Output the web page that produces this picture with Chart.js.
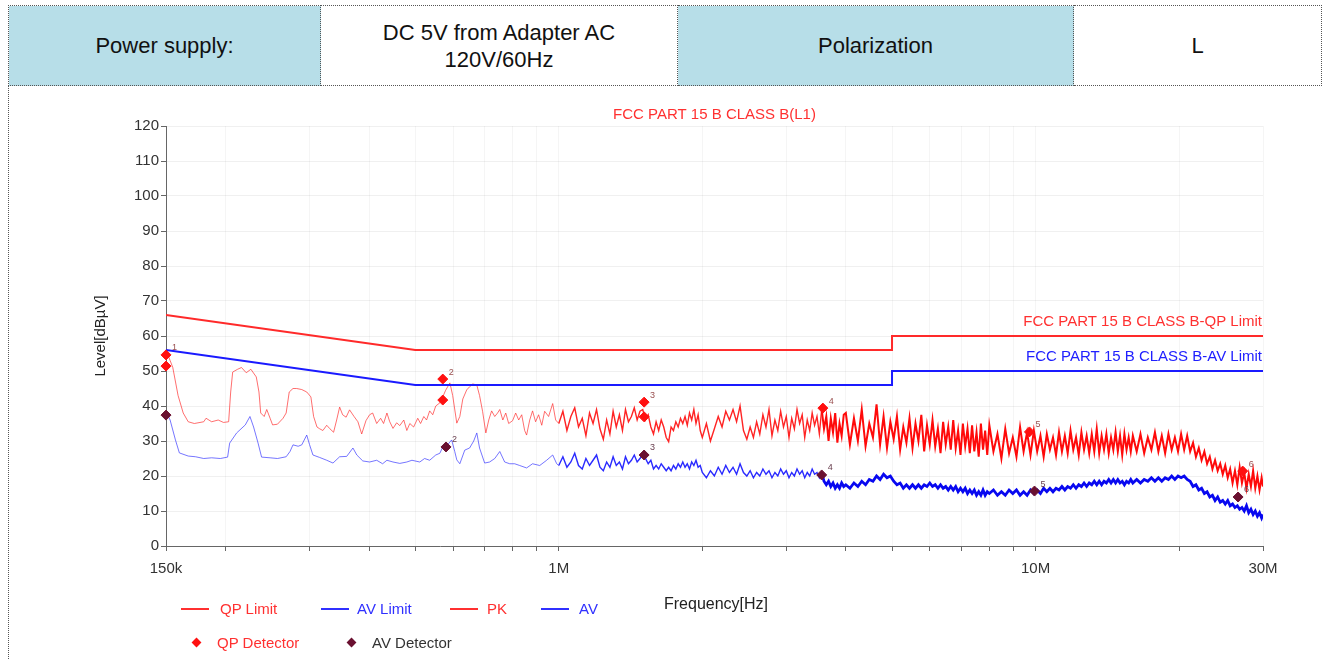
<!DOCTYPE html>
<html>
<head>
<meta charset="utf-8">
<script src="https://cdn.jsdelivr.net/npm/chart.js@4.4.1/dist/chart.umd.min.js"></script>
<style>
  html, body { margin: 0; padding: 0; background: #fff; }
  body { width: 1326px; height: 659px; position: relative; overflow: hidden; font-family: 'Liberation Sans', Arial, sans-serif; }
  .info { position: absolute; left: 8px; top: 5px; width: 1313px; height: 81px; border-collapse: collapse; table-layout: fixed; }
  .info td { border: 1px dotted #555; text-align: center; vertical-align: middle; font-size: 22px; line-height: 27px; color: #111; padding: 0; }
  .info td.head { background: #b7dee8; }
  .frame { position: absolute; left: 8px; top: 86px; height: 573px; border-left: 1px dotted #555; }
  #wrap { position: absolute; left: 0; top: 86px; width: 1326px; height: 573px; }
  .lg { position: absolute; font-size: 15px; line-height: 18px; white-space: nowrap; }
  .sw { position: absolute; width: 28px; height: 2px; }
  .dm { position: absolute; width: 7px; height: 7px; transform: rotate(45deg); }
</style>
</head>
<body>
<table class="info">
  <colgroup><col style="width:312px"><col style="width:357px"><col style="width:396px"><col style="width:248px"></colgroup>
  <tr>
    <td class="head">Power supply:</td>
    <td>DC 5V from Adapter AC<br>120V/60Hz</td>
    <td class="head">Polarization</td>
    <td>L</td>
  </tr>
</table>
<div class="frame"></div>
<div id="wrap"><canvas id="emiChart"></canvas></div>

<div class="sw" style="left:181px;top:608px;background:#ff3030"></div>
<div class="lg" style="left:220px;top:600px;color:#ff3030">QP Limit</div>
<div class="sw" style="left:321px;top:608px;background:#3030ff"></div>
<div class="lg" style="left:357px;top:600px;color:#3030ff">AV Limit</div>
<div class="sw" style="left:450px;top:608px;background:#ff3030"></div>
<div class="lg" style="left:487px;top:600px;color:#ff3030">PK</div>
<div class="sw" style="left:541px;top:608px;background:#3030ff"></div>
<div class="lg" style="left:579px;top:600px;color:#3030ff">AV</div>
<div class="lg" style="left:664px;top:595px;color:#222;font-size:16px">Frequency[Hz]</div>
<div class="dm" style="left:193px;top:639px;background:#ff1010"></div>
<div class="lg" style="left:217px;top:634px;color:#ff3030">QP Detector</div>
<div class="dm" style="left:348px;top:639px;background:#6a1030"></div>
<div class="lg" style="left:372px;top:634px;color:#333">AV Detector</div>

<script>
// frequencies in MHz, levels in dBuV
const pkFreqLow = [
  0.150, 0.153, 0.155, 0.159, 0.163, 0.167, 0.172, 0.180, 0.182, 0.187,
  0.193, 0.198, 0.203, 0.205, 0.207, 0.212, 0.216, 0.221, 0.226, 0.232,
  0.235, 0.237, 0.241, 0.244, 0.248, 0.251, 0.257, 0.264, 0.268, 0.272,
  0.277, 0.282, 0.289, 0.296, 0.302, 0.306, 0.311, 0.315, 0.320, 0.326,
  0.331, 0.337, 0.342, 0.347, 0.352, 0.358, 0.364, 0.372, 0.379, 0.386,
  0.394, 0.401, 0.407, 0.415, 0.423, 0.429, 0.436, 0.442, 0.449, 0.457,
  0.464, 0.473, 0.480, 0.487, 0.496, 0.506, 0.513, 0.521, 0.528, 0.536,
  0.544, 0.552, 0.563, 0.571, 0.579, 0.591, 0.599, 0.611, 0.620, 0.629,
  0.641, 0.650, 0.660, 0.673, 0.682, 0.692, 0.703, 0.713, 0.723, 0.734,
  0.744, 0.752, 0.763, 0.774, 0.785, 0.800, 0.812, 0.824, 0.836, 0.848,
  0.856, 0.869, 0.881, 0.894, 0.907, 0.921, 0.934, 0.952, 0.971, 0.985
];
const pkLevelLow = [
  56, 53, 51, 43, 38, 35.5, 35, 35.5, 36.5, 35.5,
  36, 35.3, 35.5, 44, 49.7, 50.5, 51, 49.5, 50.5, 48.3,
  44, 38, 37, 39, 36.5, 34.6, 34.8, 36.5, 38, 44,
  45, 45, 44.7, 44, 42.6, 37, 34, 33.5, 33, 34.5,
  33.5, 32.5, 36, 39.7, 37.5, 36.8, 38.9, 37, 35.5, 32,
  35.8, 37.5, 38, 35, 36.5, 35, 38, 35.5, 33.6, 35.2,
  34.4, 36, 33, 35, 34, 36.5, 35, 37, 36, 38.6,
  37.5, 40, 40.9, 42.6, 44.5, 46.6, 43, 35.1, 37, 42,
  44.6, 45.5, 46.3, 46, 43, 38.5, 32.3, 36, 38.6, 37,
  38, 39, 36, 38, 35, 35.8, 38, 36, 37.5, 33,
  31.7, 36, 38.6, 35.5, 37.5, 34.5, 38.5, 37, 40.7, 36
];
const avFreqLow = [
  0.150, 0.153, 0.157, 0.160, 0.167, 0.173, 0.180, 0.187, 0.195, 0.202,
  0.204, 0.211, 0.220, 0.225, 0.229, 0.234, 0.238, 0.248, 0.257, 0.268,
  0.273, 0.277, 0.284, 0.289, 0.296, 0.300, 0.305, 0.315, 0.326, 0.336,
  0.347, 0.359, 0.370, 0.377, 0.388, 0.401, 0.415, 0.427, 0.436, 0.449,
  0.464, 0.480, 0.492, 0.511, 0.523, 0.536, 0.552, 0.563, 0.571, 0.585,
  0.596, 0.605, 0.611, 0.620, 0.635, 0.650, 0.663, 0.673, 0.682, 0.699,
  0.716, 0.734, 0.752, 0.770, 0.789, 0.808, 0.828, 0.856, 0.881, 0.912,
  0.943, 0.971, 0.990
];
const avLevelLow = [
  38.5, 36, 30.3, 26.6, 25.7, 25.5, 25, 25.2, 25, 25.4,
  29.4, 32.3, 34.6, 37, 34, 29.4, 25.4, 25.2, 25, 25.5,
  27, 28.9, 28.5, 28.9, 31.7, 29, 26, 25.3, 24.5, 23.7,
  25.5, 25.6, 28, 26, 24.3, 24, 24.5, 23.5, 24.5, 24,
  23.6, 24, 24.5, 24, 25, 24.5, 26, 26.5, 28.3, 29,
  30.3, 27, 24.6, 23.5, 27.4, 28, 30, 32.3, 28, 23.7,
  24, 25, 27, 24, 23.5, 23.5, 23, 22.3, 23.5, 23,
  24.5, 26, 23.5
];
const freqHigh = [
  1.00, 1.02, 1.04, 1.06, 1.08, 1.10, 1.12, 1.14, 1.16, 1.18,
  1.20, 1.22, 1.24, 1.26, 1.28, 1.30, 1.32, 1.34, 1.36, 1.38,
  1.40, 1.42, 1.44, 1.46, 1.48, 1.50, 1.52, 1.54, 1.56, 1.58,
  1.60, 1.62, 1.64, 1.66, 1.68, 1.70, 1.72, 1.74, 1.76, 1.78,
  1.80, 1.82, 1.84, 1.86, 1.88, 1.90, 1.92, 1.94, 1.96, 1.98,
  2.00, 2.04, 2.08, 2.12, 2.16, 2.20, 2.24, 2.28, 2.32, 2.36,
  2.40, 2.44, 2.48, 2.52, 2.56, 2.60, 2.64, 2.68, 2.72, 2.76,
  2.80, 2.84, 2.88, 2.92, 2.96, 3.00, 3.04, 3.08, 3.12, 3.16,
  3.20, 3.24, 3.28, 3.32, 3.36, 3.40, 3.44, 3.48, 3.52, 3.56,
  3.60, 3.64, 3.68, 3.72, 3.76, 3.80, 3.84, 3.88, 3.92, 3.96,
  4.00, 4.08, 4.16, 4.24, 4.32, 4.40, 4.48, 4.56, 4.64, 4.72,
  4.80, 4.88, 4.96, 5.04, 5.12, 5.20, 5.28, 5.36, 5.44, 5.52,
  5.60, 5.68, 5.76, 5.84, 5.92, 6.00, 6.08, 6.16, 6.24, 6.32,
  6.40, 6.48, 6.56, 6.64, 6.72, 6.80, 6.88, 6.96, 7.04, 7.12,
  7.20, 7.28, 7.36, 7.44, 7.52, 7.60, 7.68, 7.76, 7.84, 7.92,
  8.00, 8.16, 8.32, 8.48, 8.64, 8.80, 8.96, 9.12, 9.28, 9.44,
  9.60, 9.76, 9.92, 10.08, 10.24, 10.40, 10.56, 10.72, 10.88, 11.04,
  11.20, 11.36, 11.52, 11.68, 11.84, 12.00, 12.16, 12.32, 12.48, 12.64,
  12.80, 12.96, 13.12, 13.28, 13.44, 13.60, 13.76, 13.92, 14.08, 14.24,
  14.40, 14.56, 14.72, 14.88, 15.04, 15.20, 15.36, 15.52, 15.68, 15.84,
  16.0, 16.3, 16.6, 16.9, 17.2, 17.5, 17.8, 18.1, 18.4, 18.7,
  19.0, 19.3, 19.6, 19.9, 20.2, 20.5, 20.8, 21.1, 21.4, 21.7,
  22.0, 22.3, 22.6, 22.9, 23.2, 23.5, 23.8, 24.1, 24.4, 24.7,
  25.0, 25.3, 25.6, 25.9, 26.2, 26.5, 26.8, 27.1, 27.4, 27.7,
  28.0, 28.3, 28.6, 28.9, 29.2, 29.5, 29.8, 30.0
];
const pkLevelHigh = [
  35, 38.5, 33, 37, 39.5, 34, 36.5, 31.5, 38, 35,
  39, 33.5, 30.5, 36, 32, 38.5, 34, 37.5, 33, 39,
  35.5, 37, 39.5, 36, 38.5, 39, 36, 37.5, 34, 32,
  35.5, 33, 36, 34, 31, 29.8, 34, 33, 35.5, 34,
  36.5, 35, 37, 34.5, 38, 36, 39, 35, 37.5, 33,
  31, 35, 30, 33.5, 37, 34, 38.5, 36, 39, 35.5,
  40, 33, 30.5, 34, 31, 35.5, 32, 37.5, 34, 39,
  31.5, 36, 33, 38.5, 34, 37, 31, 36.5, 33.5, 39,
  35, 37.5, 31, 36, 33, 38, 34.5, 37, 32, 39,
  33.5, 37, 30, 36.5, 32.5, 38, 29.5, 35, 31.5, 37.5,
  38, 29, 36.5, 30, 39, 28.5, 35, 31, 40.5, 29,
  37, 28, 35.5, 30.5, 37, 27.5, 34, 29.5, 36.5, 28,
  35, 30, 37.5, 27, 34.5, 29, 36, 28.5, 33.5, 26.5,
  35.5, 29, 34, 27.5, 36, 28, 33, 26, 35, 28.5,
  33.5, 26.5, 34.5, 27, 32.5, 25.5, 35, 27.5, 33, 26,
  34.5, 27, 32, 25, 33.5, 26.5, 31, 25.5, 34, 27,
  32.5, 26, 33, 27, 31.5, 25.5, 32, 27.5, 31, 26,
  32.5, 27, 31.5, 26.5, 33, 27.5, 31, 26, 32.5, 27.5,
  31.5, 26.5, 32, 27, 33.5, 26.5, 31.5, 27.5, 32, 26.5,
  31, 27.5, 32.5, 27, 31.5, 26, 32, 27.5, 31, 27,
  31.5, 27, 32, 26.5, 31, 27.5, 32.5, 27, 31.5, 26.5,
  32, 27.5, 31, 27, 32, 27.5, 31.5, 27, 29.5, 25.5,
  28, 24.5, 27, 23.5, 25.5, 22, 24.5, 21.5, 23.5, 20.5,
  23, 19.5, 22, 18, 21.5, 17.5, 22.5, 18, 21, 16.5,
  20.5, 17, 21.5, 16.5, 20, 16, 19.5, 17
];
const avLevelHigh = [
  23, 25.5, 22.5, 24, 26.5, 23, 22, 25, 23, 24.5,
  26, 22.5, 21.5, 24, 22.5, 25.5, 23, 24, 22, 25.5,
  23.5, 24.5, 26, 24, 25, 26, 25, 23.5, 24.5, 22,
  23, 22, 23.5, 22.5, 21.5, 22.5, 21.5, 23, 22, 23.5,
  22.5, 24, 22.5, 23.5, 22, 24, 23, 24.5, 22.5, 23,
  21, 19.5, 21.5, 20, 22.5, 20.5, 23, 21, 22.5, 20.5,
  23.5, 21, 20, 21.5, 19.5, 21, 20, 22, 20.5, 21.5,
  19.5, 21, 20, 22, 20.5, 21.5, 19.5, 21, 20, 22,
  20.5, 21.5, 19.5, 21, 20, 22, 20.5, 21, 19.5, 21,
  18.5, 17.5, 18.5, 17, 18, 16.5, 17.5, 16.5, 18, 17,
  17.5, 16.5, 18, 17, 18.5, 17.5, 19, 18.5, 20, 19,
  20.5, 19.5, 20, 18.5, 17.5, 18, 16.5, 17.5, 16.5, 17.5,
  16.5, 17.5, 16.5, 17.5, 17, 18, 17, 17.5, 16.5, 17.5,
  16.5, 17, 16, 17, 16, 17, 15.5, 16.5, 15.5, 16.5,
  15, 16, 15, 16, 14.5, 15.5, 14.5, 16, 14.5, 15.5,
  15, 16, 14.5, 15.5, 14.5, 16, 15, 16, 14.5, 15.5,
  14.5, 16, 15, 16, 15, 16.5, 15.5, 16.5, 15.5, 16.5,
  16, 17, 16, 17, 16.5, 17.5, 16.5, 17.5, 17, 18,
  17, 18, 17.5, 18.5, 17.5, 18.5, 17.5, 18.5, 18, 19,
  18, 19, 18, 19, 18, 18.5, 17.5, 18.5, 18, 19,
  18, 19, 18, 19, 18.5, 19.5, 18.5, 19.5, 18.5, 19.5,
  19, 20, 19, 20, 19.5, 20, 19, 18.5, 17, 17.5,
  16, 16.5, 15, 15.5, 14, 14.5, 13, 14, 12.5, 13,
  12, 13, 11.5, 12, 11, 11.5, 10.5, 11, 10, 11.5,
  9.5, 10.5, 9, 10, 8.5, 9.5, 8, 9
];
const qpLimitFreq = [0.15, 0.5, 5, 5, 30];
const qpLimitLevel = [66, 56, 56, 60, 60];
const avLimitFreq = [0.15, 0.5, 5, 5, 30];
const avLimitLevel = [56, 46, 46, 50, 50];
const qpMarkFreq = [0.150, 0.150, 0.571, 0.571, 1.51, 1.51, 3.58, 9.71, 27.2];
const qpMarkLevel = [54.6, 51.4, 47.7, 41.7, 41.1, 36.9, 39.4, 32.6, 21.4];
const qpMarkNo = ['1', '', '2', '', '3', '', '4', '5', '6'];
const avMarkFreq = [0.150, 0.58, 1.51, 3.56, 9.95, 26.6];
const avMarkLevel = [37.4, 28.3, 26.0, 20.3, 15.7, 14.0];
const avMarkNo = ['1', '2', '3', '4', '5', '6'];
const xTickValues = [0.15, 0.2, 0.3, 0.4, 0.5, 0.6, 0.7, 0.8, 0.9, 1, 2, 3, 4, 5, 6, 7, 8, 9, 10, 20, 30];
const xTickLabels = ['150k', '', '', '', '', '', '', '', '', '1M', '', '', '', '', '', '', '', '', '10M', '', '30M'];

const toPoints = (xs, ys) => xs.map((x, i) => ({ x: x, y: ys[i] }));
const font15 = { family: "'Liberation Sans', Arial, sans-serif", size: 15 };

const annotations = {
  id: 'annotations',
  afterDatasetsDraw(chart) {
    const c = chart.ctx;
    const xs = chart.scales.x;
    const ys = chart.scales.y;
    const area = chart.chartArea;
    c.save();
    c.font = "15px 'Liberation Sans', Arial, sans-serif";
    c.textBaseline = 'middle';
    c.fillStyle = '#ff3030';
    c.textAlign = 'center';
    c.fillText('FCC PART 15 B CLASS B(L1)', (area.left + area.right) / 2, 29);
    c.textAlign = 'right';
    c.fillText('FCC PART 15 B CLASS B-QP Limit', area.right - 1, ys.getPixelForValue(60) - 14);
    c.fillStyle = '#2020ff';
    c.fillText('FCC PART 15 B CLASS B-AV Limit', area.right - 1, ys.getPixelForValue(50) - 14);
    c.font = "9px 'Liberation Sans', Arial, sans-serif";
    c.textAlign = 'left';
    c.fillStyle = '#9a5050';
    qpMarkNo.forEach((t, i) => {
      if (t) c.fillText(t, xs.getPixelForValue(qpMarkFreq[i]) + 6, ys.getPixelForValue(qpMarkLevel[i]) - 7);
    });
    c.fillStyle = '#6a4050';
    avMarkNo.forEach((t, i) => {
      if (i > 0) c.fillText(t, xs.getPixelForValue(avMarkFreq[i]) + 6, ys.getPixelForValue(avMarkLevel[i]) - 7);
    });
    c.restore();
  },
};

const ctx = document.getElementById('emiChart').getContext('2d');

const emiChart = new Chart(ctx, {
  type: 'line',
  data: {
    datasets: [
      {
        label: 'QP Detector',
        data: toPoints(qpMarkFreq, qpMarkLevel),
        showLine: false,
        clip: false,
        pointStyle: 'rectRot',
        pointRadius: 5,
        pointBackgroundColor: '#ff1010',
        pointBorderColor: '#ff1010',
        order: 0,
      },
      {
        label: 'AV Detector',
        data: toPoints(avMarkFreq, avMarkLevel),
        showLine: false,
        clip: false,
        pointStyle: 'rectRot',
        pointRadius: 5,
        pointBackgroundColor: '#6a1030',
        pointBorderColor: '#6a1030',
        order: 0,
      },
      {
        label: 'QP Limit',
        data: toPoints(qpLimitFreq, qpLimitLevel),
        borderColor: '#ff2a2a',
        borderWidth: 2,
        pointRadius: 0,
        order: 1,
      },
      {
        label: 'AV Limit',
        data: toPoints(avLimitFreq, avLimitLevel),
        borderColor: '#1a1aff',
        borderWidth: 2,
        pointRadius: 0,
        order: 1,
      },
      {
        label: 'AV',
        data: toPoints(avFreqLow.concat(freqHigh), avLevelLow.concat(avLevelHigh)),
        borderColor: '#2020ff',
        pointRadius: 0,
        segment: {
          borderColor: (s) => (s.p0.parsed.x < 1 ? 'rgba(60,60,255,0.7)' : s.p0.parsed.x < 3.55 ? '#2a2aff' : '#0808f0'),
          borderWidth: (s) => (s.p0.parsed.x < 1 ? 1 : s.p0.parsed.x < 3.55 ? 1.4 : 2.8),
        },
        order: 2,
      },
      {
        label: 'PK',
        data: toPoints(pkFreqLow.concat(freqHigh), pkLevelLow.concat(pkLevelHigh)),
        borderColor: '#ff2020',
        pointRadius: 0,
        segment: {
          borderColor: (s) => (s.p0.parsed.x < 1 ? 'rgba(255,50,50,0.7)' : s.p0.parsed.x < 3.55 ? '#ff2424' : '#ff0a0a'),
          borderWidth: (s) => (s.p0.parsed.x < 1 ? 1 : s.p0.parsed.x < 3.55 ? 1.4 : 2),
        },
        order: 3,
      },
    ],
  },
  options: {
    responsive: true,
    maintainAspectRatio: false,
    animation: false,
    events: [],
    layout: { padding: { left: 92, right: 63, top: 40, bottom: 81 } },
    plugins: {
      legend: { display: false },
      tooltip: { enabled: false },
    },
    scales: {
      x: {
        type: 'logarithmic',
        min: 0.15,
        max: 30,
        afterBuildTicks: (scale) => {
          scale.ticks = xTickValues.map((v) => ({ value: v }));
        },
        afterFit: (scale) => {
          scale.height = 32;
        },
        ticks: {
          autoSkip: false,
          maxRotation: 0,
          padding: 9,
          color: '#333',
          font: font15,
          callback: (value, index) => xTickLabels[index],
        },
        grid: { color: 'rgba(0,0,0,0.04)', tickColor: '#666', tickLength: 5 },
        border: { color: '#666' },
      },
      y: {
        min: 0,
        max: 120,
        afterFit: (scale) => {
          scale.width = 74;
        },
        ticks: { stepSize: 10, padding: 2, color: '#333', font: font15 },
        grid: { color: 'rgba(0,0,0,0.06)', tickColor: '#666', tickLength: 5 },
        border: { color: '#666' },
        title: { display: true, text: 'Level[dBµV]', color: '#222', font: font15, padding: 0 },
      },
    },
  },
  plugins: [annotations],
});
</script>
</body>
</html>
